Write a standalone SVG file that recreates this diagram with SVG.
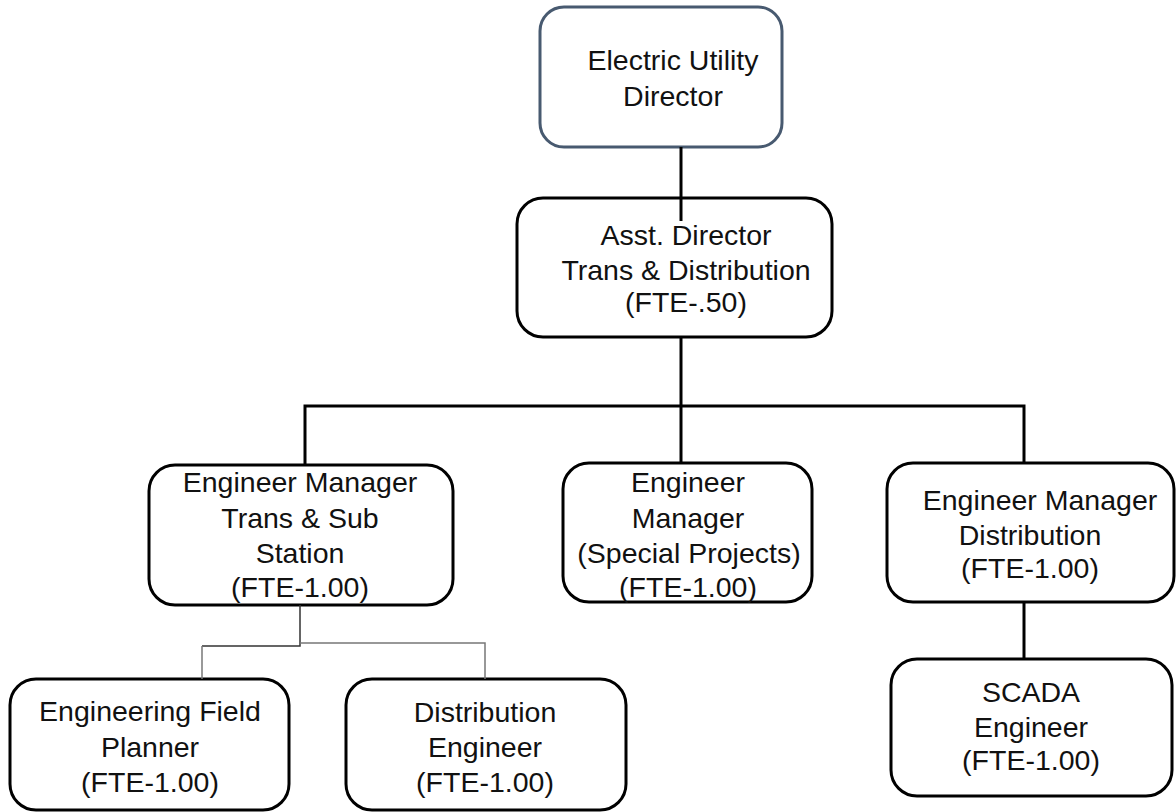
<svg xmlns="http://www.w3.org/2000/svg" width="1176" height="812" viewBox="0 0 1176 812">
  <style>
    .box { fill: #ffffff; stroke: #000000; stroke-width: 3; }
    .top { stroke: #485a70; }
    .lbl { font-family: "Liberation Sans", Arial, sans-serif; font-size: 28.5px; fill: #111111; text-anchor: middle; }
    .bus { fill: none; stroke: #000000; stroke-width: 3; }
    .thin { fill: none; stroke: #333333; stroke-width: 1.5; }
    .thin-grey { fill: none; stroke: #777777; stroke-width: 1.5; }
  </style>
  <rect width="1176" height="812" fill="#ffffff"/>

  <g id="director">
    <rect class="box top" x="540" y="7" width="242" height="140" rx="24"/>
    <text class="lbl" x="673" y="70">Electric Utility</text>
    <text class="lbl" x="673" y="106">Director</text>
  </g>

  <g id="asst-director">
    <rect class="box" x="517" y="198" width="315" height="139" rx="26"/>
    <text class="lbl" x="686" y="245">Asst. Director</text>
    <text class="lbl" x="686" y="280">Trans &amp; Distribution</text>
    <text class="lbl" x="686" y="312">(FTE-.50)</text>
  </g>

  <g id="em-trans-sub">
    <rect class="box" x="149" y="465" width="304" height="140" rx="26"/>
    <text class="lbl" x="300" y="492">Engineer Manager</text>
    <text class="lbl" x="300" y="528">Trans &amp; Sub</text>
    <text class="lbl" x="300" y="563">Station</text>
    <text class="lbl" x="300" y="597">(FTE-1.00)</text>
  </g>

  <g id="em-special">
    <rect class="box" x="563" y="463" width="249" height="139" rx="26"/>
    <text class="lbl" x="688" y="492">Engineer</text>
    <text class="lbl" x="688" y="528">Manager</text>
    <text class="lbl" x="689" y="563">(Special Projects)</text>
    <text class="lbl" x="688" y="597">(FTE-1.00)</text>
  </g>

  <g id="em-distribution">
    <rect class="box" x="887" y="463" width="287" height="139" rx="26"/>
    <text class="lbl" x="1040" y="510">Engineer Manager</text>
    <text class="lbl" x="1030" y="545">Distribution</text>
    <text class="lbl" x="1030" y="578">(FTE-1.00)</text>
  </g>

  <g id="scada">
    <rect class="box" x="891" y="659" width="281" height="137" rx="26"/>
    <text class="lbl" x="1031" y="702">SCADA</text>
    <text class="lbl" x="1031" y="737">Engineer</text>
    <text class="lbl" x="1031" y="770">(FTE-1.00)</text>
  </g>

  <g id="field-planner">
    <rect class="box" x="10" y="679" width="279" height="131" rx="26"/>
    <text class="lbl" x="150" y="721">Engineering Field</text>
    <text class="lbl" x="150" y="757">Planner</text>
    <text class="lbl" x="150" y="792">(FTE-1.00)</text>
  </g>

  <g id="dist-engineer">
    <rect class="box" x="346" y="679" width="280" height="131" rx="26"/>
    <text class="lbl" x="485" y="722">Distribution</text>
    <text class="lbl" x="485" y="757">Engineer</text>
    <text class="lbl" x="485" y="792">(FTE-1.00)</text>
  </g>

  <g id="connectors">
    <line class="bus" x1="681" y1="147" x2="681" y2="221"/>
    <line class="bus" x1="681" y1="337" x2="681" y2="463"/>
    <path class="bus" d="M305 465 V406 H1024 V463"/>
    <line class="bus" x1="1024" y1="602" x2="1024" y2="659"/>
    <path class="thin" d="M300 605 V646 H202"/>
    <line class="thin-grey" x1="202" y1="646" x2="202" y2="679"/>
    <path class="thin-grey" d="M300 643 H485 V679"/>
  </g>
</svg>
